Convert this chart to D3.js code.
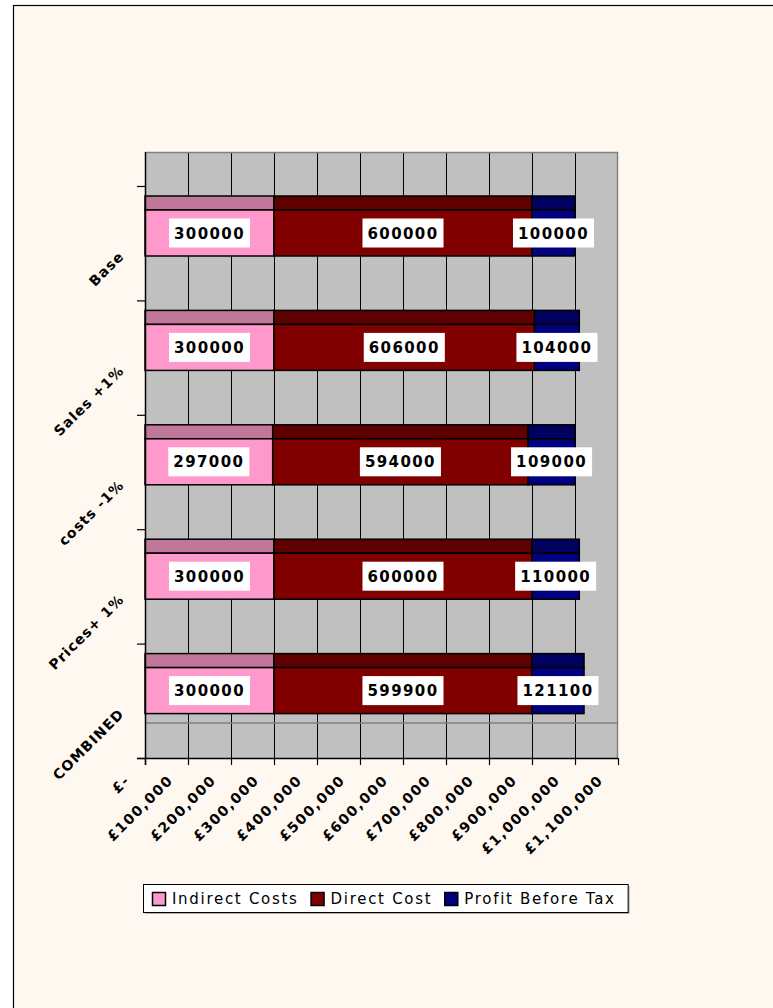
<!DOCTYPE html>
<html>
<head>
<meta charset="utf-8">
<script src="https://cdn.jsdelivr.net/npm/d3@7"></script>
<style>
  html, body { margin: 0; padding: 0; background: #ffffff; }
  svg { display: block; }
  text { font-family: "DejaVu Sans", Verdana, sans-serif; }
</style>
</head>
<body>
<svg id="chart" width="773" height="1008"></svg>
<script>
// Scenario categories and the three stacked components (in £)
const categories = ["Base", "Sales +1%", "costs -1%", "Prices+ 1%", "COMBINED"];
const indirectCosts = [300000, 300000, 297000, 300000, 300000];
const directCost = [600000, 606000, 594000, 600000, 599900];
const profitBeforeTax = [100000, 104000, 109000, 110000, 121100];
const seriesNames = ["Indirect Costs", "Direct Cost", "Profit Before Tax"];
const xTickValues = [0, 100000, 200000, 300000, 400000, 500000, 600000, 700000, 800000, 900000, 1000000, 1100000];
const xTickLabels = ["£-", "£100,000", "£200,000", "£300,000", "£400,000", "£500,000", "£600,000", "£700,000", "£800,000", "£900,000", "£1,000,000", "£1,100,000"];

const faceColors = ["#ff99cc", "#800000", "#000080"];
const topColors = ["#c07799", "#5e0000", "#00005e"];

const svg = d3.select("#chart");

// Chart area background with its border
svg.append("rect")
  .attr("x", 13.5).attr("y", 5.5)
  .attr("width", 820).attr("height", 1100)
  .attr("fill", "#fff8f1").attr("stroke", "#000").attr("stroke-width", 1.2);

// Geometry of the plot (front plane) and the depth of the 3D walls
const left = 145, right = 618, frontTop = 186, frontBottom = 758, depth = 35;

const x = d3.scaleLinear().domain([0, 1100000]).range([left, right]);
const y = d3.scaleBand().domain(categories).range([frontTop, frontBottom]).padding(0);
const bw = y.bandwidth();

const rows = categories.map((c, i) => ({
  cat: c,
  values: [indirectCosts[i], directCost[i], profitBeforeTax[i]]
}));

// Back wall and floor
const g = svg.append("g");
g.append("rect")
  .attr("x", left).attr("y", frontTop - depth + 1)
  .attr("width", right - left).attr("height", frontBottom - (frontTop - depth + 1))
  .attr("fill", "#c0c0c0");

// Vertical gridlines across wall and floor
g.selectAll("line.grid")
  .data(xTickValues.filter(v => v > 0 && v < 1100000))
  .join("line")
  .attr("class", "grid")
  .attr("x1", d => x(d) + 0.5).attr("x2", d => x(d) + 0.5)
  .attr("y1", frontTop - depth + 1).attr("y2", frontBottom)
  .attr("stroke", "#000").attr("stroke-width", 1);

// Wall edges
g.append("line")
  .attr("x1", left).attr("x2", right)
  .attr("y1", frontTop - depth + 1.5).attr("y2", frontTop - depth + 1.5)
  .attr("stroke", "#808080").attr("stroke-width", 1.5);
g.append("line")
  .attr("x1", right - 0.5).attr("x2", right - 0.5)
  .attr("y1", frontTop - depth + 1).attr("y2", frontBottom)
  .attr("stroke", "#808080").attr("stroke-width", 1.5);
g.append("line")
  .attr("x1", left).attr("x2", right)
  .attr("y1", frontBottom - depth).attr("y2", frontBottom - depth)
  .attr("stroke", "#808080").attr("stroke-width", 1.5);

// Stacked bars: a darker top strip plus the front face
const stripTop = 10, faceTop = 24, faceBottom = 70;
rows.forEach(r => {
  let acc = 0;
  const y0 = y(r.cat);
  r.values.forEach((v, s) => {
    const x0 = x(acc), x1 = x(acc + v);
    acc += v;
    g.append("rect")
      .attr("x", x0).attr("y", y0 + stripTop)
      .attr("width", x1 - x0).attr("height", faceTop - stripTop)
      .attr("fill", topColors[s]).attr("stroke", "#000").attr("stroke-width", 1.5);
    g.append("rect")
      .attr("x", x0).attr("y", y0 + faceTop)
      .attr("width", x1 - x0).attr("height", faceBottom - faceTop)
      .attr("fill", faceColors[s]).attr("stroke", "#000").attr("stroke-width", 1.5);
  });
});

// Value labels on white boxes
rows.forEach(r => {
  let acc = 0;
  const cy = y(r.cat) + (faceTop + faceBottom) / 2;
  r.values.forEach(v => {
    const cx = x(acc + v / 2);
    acc += v;
    const t = g.append("text")
      .attr("x", cx).attr("y", cy + 5.5)
      .attr("text-anchor", "middle")
      .attr("font-size", 15).attr("font-weight", "bold")
      .attr("letter-spacing", 1.4)
      .attr("fill", "#000")
      .text(String(v));
    const w = t.node().getComputedTextLength();
    g.insert("rect", () => t.node())
      .attr("x", cx - w / 2 - 5).attr("y", cy - 14.5)
      .attr("width", w + 10).attr("height", 29)
      .attr("fill", "#fff");
  });
});

// Left axis
const ax = svg.append("g");
ax.append("line")
  .attr("x1", left + 0.5).attr("x2", left + 0.5)
  .attr("y1", frontTop - depth + 1).attr("y2", frontBottom + 7)
  .attr("stroke", "#000").attr("stroke-width", 1.5);
const yBounds = categories.map(c => y(c)).concat([frontBottom]);
ax.selectAll("line.ytick").data(yBounds).join("line")
  .attr("class", "ytick")
  .attr("x1", left - 8).attr("x2", left)
  .attr("y1", d => d + 0.5).attr("y2", d => d + 0.5)
  .attr("stroke", "#000").attr("stroke-width", 1.2);
ax.selectAll("text.ylab").data(categories).join("text")
  .attr("class", "ylab")
  .attr("text-anchor", "end")
  .attr("font-size", 14).attr("font-weight", "bold")
  .attr("letter-spacing", 1.1)
  .attr("transform", d => `translate(125,${y(d) + bw / 2 + 14}) rotate(-45)`)
  .text(d => d);

// Bottom axis
ax.append("line")
  .attr("x1", left - 8).attr("x2", right)
  .attr("y1", frontBottom + 0.5).attr("y2", frontBottom + 0.5)
  .attr("stroke", "#000").attr("stroke-width", 1.5);
ax.selectAll("line.xtick").data(xTickValues).join("line")
  .attr("class", "xtick")
  .attr("x1", d => x(d) + 0.5).attr("x2", d => x(d) + 0.5)
  .attr("y1", frontBottom).attr("y2", frontBottom + 7)
  .attr("stroke", "#000").attr("stroke-width", 1.2);
ax.selectAll("text.xlab").data(xTickValues).join("text")
  .attr("class", "xlab")
  .attr("text-anchor", "end")
  .attr("font-size", 14).attr("font-weight", "bold")
  .attr("letter-spacing", 1.6)
  .attr("transform", d => `translate(${x(d) - 14},${frontBottom + 23}) rotate(-45)`)
  .text((d, i) => xTickLabels[i]);

// Legend
const lg = svg.append("g");
const lgLeft = 143, lgTop = 884, lgH = 28;
const lgShadow = lg.append("rect")
  .attr("x", lgLeft + 2).attr("y", lgTop + 2)
  .attr("width", 486).attr("height", lgH)
  .attr("fill", "#b8b0a8");
const lgBox = lg.append("rect")
  .attr("x", lgLeft + 0.5).attr("y", lgTop + 0.5)
  .attr("width", 486).attr("height", lgH)
  .attr("fill", "#fff").attr("stroke", "#000").attr("stroke-width", 1);
let lx = lgLeft + 9;
seriesNames.forEach((name, s) => {
  lg.append("rect")
    .attr("x", lx + 0.5).attr("y", lgTop + 8.5)
    .attr("width", 13).attr("height", 13)
    .attr("fill", faceColors[s]).attr("stroke", "#000").attr("stroke-width", 1.5);
  const t = lg.append("text")
    .attr("x", lx + 20).attr("y", lgTop + 20)
    .attr("font-size", 15).attr("letter-spacing", 1.7)
    .attr("fill", "#000")
    .text(name);
  lx += 20 + t.node().getComputedTextLength() + 12;
});
lgBox.attr("width", lx - lgLeft);
lgShadow.attr("width", lx - lgLeft);
</script>
</body>
</html>
